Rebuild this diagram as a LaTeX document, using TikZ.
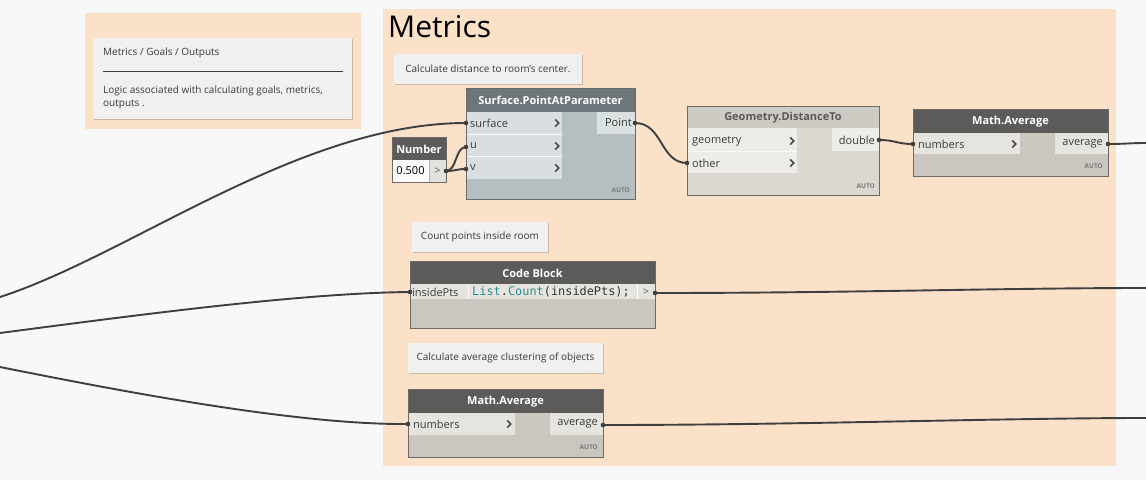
\documentclass[tikz,border=0pt]{standalone}
\usepackage{fontspec}
\setmainfont{Open Sans}
\newfontfamily\codefont{DejaVu Sans Mono}
\usetikzlibrary{shadows}
\definecolor{canvas}{HTML}{F8F8F8}
\definecolor{peach}{HTML}{FBE1C8}
\definecolor{notec}{HTML}{F0F0F0}
\definecolor{darkhdr}{HTML}{5D5B59}
\definecolor{darkbody}{HTML}{CBC7C0}
\definecolor{cellc}{HTML}{E6E4DF}
\definecolor{bluehdr}{HTML}{6D767B}
\definecolor{bluebody}{HTML}{B5BFC2}
\definecolor{bluecell}{HTML}{D9DFE0}
\definecolor{lighthdr}{HTML}{CECAC4}
\definecolor{lightbody}{HTML}{DBD8D2}
\definecolor{lightcell}{HTML}{EDECE9}
\definecolor{wirec}{HTML}{3F3F3F}
\definecolor{bordc}{HTML}{6A6A6A}
\definecolor{chevc}{HTML}{4A4A4A}
\definecolor{autoc}{HTML}{7A7A7A}
\definecolor{txtc}{HTML}{3A3A3A}
\definecolor{teal}{HTML}{2A8F8F}
\tikzset{
  group/.style={fill=peach, inner sep=0, outer sep=0, anchor=north west},
  note/.style={fill=notec, inner sep=0, outer sep=0, anchor=north west,
    font=\fontsize{10}{12}\selectfont, text=txtc,
    drop shadow={shadow xshift=0.8pt, shadow yshift=-0.8pt, opacity=0.18, fill=black}},
  nodebox/.style={draw=bordc, line width=0.6pt, inner sep=0, outer sep=0, anchor=north west},
  txt/.style={font=\fontsize{11}{13}\selectfont, text=txtc, inner sep=0},
  notetxt/.style={font=\fontsize{10}{12}\selectfont, text=txtc, inner sep=0, anchor=west},
  hdr/.style={font=\bfseries\fontsize{11}{13}\selectfont, text=white, inner sep=0},
  autolbl/.style={font=\bfseries\fontsize{6.5}{7}\selectfont, text=autoc, inner sep=0, anchor=east},
  wire/.style={draw=wirec, line width=1.9pt},
  portdot/.style={fill=wirec, circle, inner sep=0, minimum size=4.6pt},
  chevron/.pic={\draw[chevc, line width=1.5pt] (-1.8,-3.6) -- (1.7,0) -- (-1.8,3.6);}
}
\begin{document}
\begin{tikzpicture}[x=1pt,y=-1pt]
\useasboundingbox (0,0) rectangle (1146,480);
\fill[canvas] (0,0) rectangle (1146,480);

% groups
\node[group, minimum width=276, minimum height=116] (g1) at (85,13) {};
\node[group, minimum width=733, minimum height=457] (g2) at (383,9) {};

% left note
\node[note, minimum width=259, minimum height=81] (n0) at (93,38) {};
\node[notetxt] (n0a) at (103,53) {Metrics / Goals / Outputs};
\draw[txtc, line width=0.8pt] (103,71) -- (343,71);
\node[notetxt] (n0b) at (103,91) {Logic associated with calculating goals, metrics,};
\node[notetxt] (n0c) at (103,104) {outputs .};

% title
\node[inner sep=0, anchor=base west, font=\fontsize{30}{32}\selectfont, text=black] (title) at (388,37) {Metrics};

% notes
\node[note, minimum width=188, minimum height=30] (n1) at (394,54) {Calculate distance to room's center.};
\node[note, minimum width=136, minimum height=30] (n2) at (412,222) {Count points inside room};
\node[note, minimum width=195, minimum height=30] (n3) at (408,343) {Calculate average clustering of objects};

% Surface.PointAtParameter
\node[nodebox, fill=bluebody, minimum width=169, minimum height=111] (spp) at (466,88) {};
\fill[bluehdr] (466,88) rectangle (635,112);
\fill[bluecell] (466,112) rectangle (562,179);
\draw[white!85!bluecell, line width=0.6pt] (466,134.5) -- (562,134.5) (466,156.5) -- (562,156.5);
\fill[bluecell!95!white] (597,112) rectangle (635,134);
\draw[bordc, line width=0.6pt] (466,88) rectangle (635,199);
\node[hdr] (spph) at (550.5,100.5) {Surface.PointAtParameter};
\node[txt, anchor=west] (sppi1) at (470,123) {surface};
\node[txt, anchor=west] (sppi2) at (470,146) {u};
\node[txt, anchor=west] (sppi3) at (470,168) {v};
\pic at (557,123) {chevron};
\pic at (557,146) {chevron};
\pic at (557,168) {chevron};
\node[txt, anchor=east] (sppo) at (632,123) {Point};
\node[autolbl] (sppa) at (630,190) {AUTO};

% Number
\node[nodebox, fill=darkhdr, minimum width=54, minimum height=45] (num) at (392,137) {};
\fill[white!93!darkbody] (392,160) rectangle (429,182);
\fill[cellc!90!darkbody] (429,160) rectangle (446,182);
\draw[bordc, line width=0.6pt] (392,137) rectangle (446,182);
\draw[bordc!50, line width=0.5pt] (429,160) -- (429,182);
\node[hdr] (numh) at (419,149) {Number};
\node[txt, text=black] (numv) at (410.5,171) {0.500};
\node[txt, text=black!65] (numo) at (437.5,171) {>};

% Geometry.DistanceTo
\node[nodebox, fill=lightbody, minimum width=192, minimum height=89] (gd) at (687,106) {};
\fill[lighthdr] (687,106) rectangle (879,128);
\fill[lightcell] (687,128) rectangle (797,173);
\draw[white!70!lightcell, line width=0.6pt] (687,151.5) -- (797,151.5);
\fill[lightcell] (832,128) rectangle (879,151);
\draw[bordc, line width=0.6pt] (687,106) rectangle (879,195);
\node[hdr, text=black!65] (gdh) at (783,118) {Geometry.DistanceTo};
\node[txt, anchor=west] (gdi1) at (692,141) {geometry};
\node[txt, anchor=west] (gdi2) at (692,163) {other};
\pic at (792,141) {chevron};
\pic at (792,163) {chevron};
\node[txt, anchor=east] (gdo) at (875,140) {double};
\node[autolbl] (gda) at (875,186) {AUTO};

% Math.Average (top)
\node[nodebox, fill=darkbody, minimum width=195, minimum height=67] (ma1) at (913,109) {};
\fill[darkhdr] (913,109) rectangle (1108,133);
\fill[cellc] (913,133) rectangle (1020,154);
\fill[cellc] (1055,133) rectangle (1108,154);
\draw[bordc, line width=0.6pt] (913,109) rectangle (1108,176);
\node[hdr] (ma1h) at (1010.5,122) {Math.Average};
\node[txt, anchor=west] (ma1i) at (918,144) {numbers};
\pic at (1014,144) {chevron};
\node[txt, anchor=east] (ma1o) at (1103,144) {average};
\node[autolbl] (ma1a) at (1103,166) {AUTO};

% Code Block
\node[nodebox, fill=darkbody, minimum width=245, minimum height=67] (cb) at (410,261) {};
\fill[darkhdr] (410,261) rectangle (655,284);
\fill[cellc] (410,284) rectangle (655,299);
\draw[white!80!cellc, line width=0.8pt] (468,284) -- (468,299) (637,284) -- (637,299);
\draw[bordc, line width=0.6pt] (410,261) rectangle (655,328);
\node[hdr] (cbh) at (532.5,273) {Code Block};
\node[txt, anchor=west] (cbi) at (412,292) {insidePts};
\node[inner sep=0, anchor=west, font=\codefont\fontsize{11.9}{13}\selectfont, text=black!80] (cbc) at (472,292) {\textcolor{teal}{List}.\textcolor{teal}{Count}(insidePts);};
\node[txt, text=black!65] (cbo) at (646,292) {>};

% Math.Average (bottom)
\node[nodebox, fill=darkbody, minimum width=195, minimum height=68] (ma2) at (408,389) {};
\fill[darkhdr] (408,389) rectangle (603,413);
\fill[cellc] (408,413) rectangle (515,435);
\fill[cellc] (550,413) rectangle (603,435);
\draw[bordc, line width=0.6pt] (408,389) rectangle (603,457);
\node[hdr] (ma2h) at (505.5,402) {Math.Average};
\node[txt, anchor=west] (ma2i) at (413,424) {numbers};
\pic at (509,424) {chevron};
\node[txt, anchor=east] (ma2o) at (598,424) {average};
\node[autolbl] (ma2a) at (598,447) {AUTO};

% ports
\coordinate (pSurf) at (466,123);
\coordinate (pU) at (466,147);
\coordinate (pV) at (466,169);
\coordinate (pNum) at (446,171);
\coordinate (pPoint) at (635,123);
\coordinate (pOther) at (687,163);
\coordinate (pDouble) at (879,140);
\coordinate (pNums1) at (913,144);
\coordinate (pAvg1) at (1108,144);
\coordinate (pIns) at (410,292);
\coordinate (pCode) at (655,293);
\coordinate (pNums2) at (408,424);
\coordinate (pAvg2) at (603,425);
% free ends
\coordinate (eA) at (0,297);
\coordinate (eB) at (0,333);
\coordinate (eC) at (0,367);
\coordinate (eD) at (1146,143);
\coordinate (eE) at (1146,288);
\coordinate (eF) at (1146,418);

% wires
\draw[wire] (eA) .. controls (130,255) and (300,123) .. (pSurf);
\draw[wire] (eB) .. controls (130,316) and (300,293) .. (pIns);
\draw[wire] (eC) .. controls (130,393) and (300,425) .. (pNums2);
\draw[wire] (pNum) .. controls (457,171) and (455,147) .. (pU);
\draw[wire] (pNum) .. controls (456,171) and (456,169) .. (pV);
\draw[wire] (pPoint) .. controls (663,123) and (660,163) .. (pOther);
\draw[wire] (pDouble) .. controls (896,140) and (896,144) .. (pNums1);
\draw[wire] (pAvg1) .. controls (1125,144) and (1130,143) .. (eD);
\draw[wire] (pCode) .. controls (850,293) and (1000,288) .. (eE);
\draw[wire] (pAvg2) .. controls (800,425) and (1000,418) .. (eF);

\foreach \p in {pSurf,pU,pV,pNum,pPoint,pOther,pDouble,pNums1,pAvg1,pIns,pCode,pNums2,pAvg2}
  \node[portdot] at (\p) {};
\end{tikzpicture}
\end{document}
